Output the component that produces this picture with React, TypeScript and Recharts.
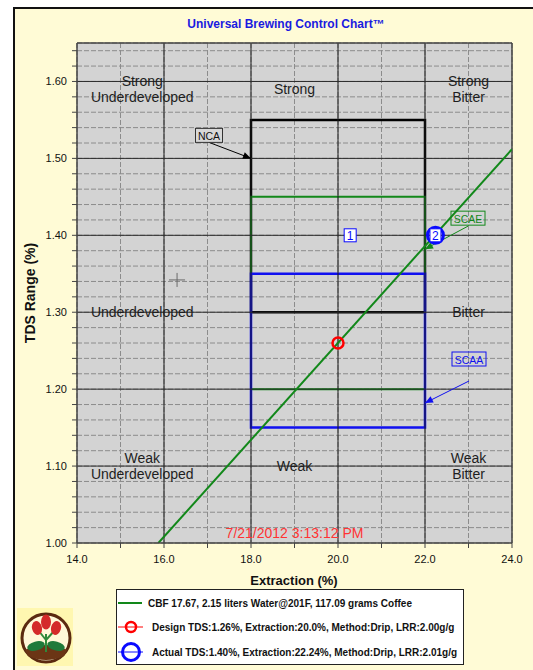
import React from 'react';
import {
  ComposedChart, XAxis, YAxis, CartesianGrid, Line, Scatter,
  ReferenceLine, ReferenceArea, ReferenceDot,
} from 'recharts';

const FONT = "Arial, 'Liberation Sans', sans-serif";

// ---- axis ticks ----
const xTicks = [14, 15, 16, 17, 18, 19, 20, 21, 22, 23, 24];
const xMajor = [16, 18, 20, 22];
const yTicks = [
  1.0, 1.02, 1.04, 1.06, 1.08, 1.1, 1.12, 1.14, 1.16, 1.18, 1.2, 1.22, 1.24, 1.26, 1.28,
  1.3, 1.32, 1.34, 1.36, 1.38, 1.4, 1.42, 1.44, 1.46, 1.48, 1.5, 1.52, 1.54, 1.56, 1.58,
  1.6, 1.62, 1.64,
];
const yMajor = [1.1, 1.2, 1.3, 1.4, 1.5, 1.6];

// ---- series ----
const cbfLine = [
  { ext: 15.87, tds: 1.0 },
  { ext: 24.0, tds: 1.512 },
];
const designPoint = [{ ext: 20.0, tds: 1.26 }];
const actualPoint = [{ ext: 22.24, tds: 1.4 }];

// ---- standards boxes (drawn in this order) ----
const standards = [
  { name: 'NCA', x1: 18, x2: 22, y1: 1.3, y2: 1.55, color: '#000000', width: 2.5 },
  { name: 'SCAE', x1: 18, x2: 22, y1: 1.2, y2: 1.45, color: '#13881a', width: 2 },
  { name: 'SCAA', x1: 18, x2: 22, y1: 1.15, y2: 1.35, color: '#1010f0', width: 2.5 },
];

// callouts: arrow tip (data) and box offset in px
const callouts = [
  { name: 'NCA', ext: 18.0, tds: 1.5, color: '#000000', boxDx: -42, boxDy: -23, lineDy: 7, boxW: 27, fill: '#d8d8d8', border: '#333', textColor: '#111' },
  { name: 'SCAE', ext: 22.0, tds: 1.382, color: '#13881a', boxDx: 43, boxDy: -31, lineDy: 8, boxW: 34, fill: 'none', border: '#13881a', textColor: '#13881a' },
  { name: 'SCAA', ext: 22.0, tds: 1.182, color: '#1010f0', boxDx: 44, boxDy: -44, lineDy: 22, boxW: 34, fill: 'none', border: '#1010f0', textColor: '#1010f0' },
];

// zone labels
const zoneLabels = [
  { lines: ['Strong', 'Underdeveloped'], ext: 15.5, tds: 1.59 },
  { lines: ['Strong'], ext: 19.0, tds: 1.59 },
  { lines: ['Strong', 'Bitter'], ext: 23.0, tds: 1.59 },
  { lines: ['Underdeveloped'], ext: 15.5, tds: 1.3 },
  { lines: ['Bitter'], ext: 23.0, tds: 1.3 },
  { lines: ['Weak', 'Underdeveloped'], ext: 15.5, tds: 1.1 },
  { lines: ['Weak'], ext: 19.0, tds: 1.1 },
  { lines: ['Weak', 'Bitter'], ext: 23.0, tds: 1.1 },
];

const crossMark = { ext: 16.3, tds: 1.342 };
const label1 = { ext: 20.28, tds: 1.4, text: '1' };
const dateStamp = { ext: 19.0, tds: 1.013, text: '7/21/2012 3:13:12 PM' };

const legendItems = [
  'CBF 17.67,  2.15 liters Water@201F, 117.09 grams Coffee',
  'Design TDS:1.26%, Extraction:20.0%, Method:Drip, LRR:2.00g/g',
  'Actual TDS:1.40%, Extraction:22.24%, Method:Drip, LRR:2.01g/g',
];

const GREEN = '#12881a';
const RED = '#ff0000';
const BLUE = '#0a0aff';

const ZoneText = ({ cx, cy, lines }: any) => {
  const lh = 16.5;
  const start = cy - ((lines.length - 1) * lh) / 2;
  return (
    <g>
      {lines.map((l: string, i: number) => (
        <text key={i} x={cx} y={start + i * lh} textAnchor="middle" dominantBaseline="central"
          fontSize={14} fill="#1e1e1e" fontFamily={FONT}>{l}</text>
      ))}
    </g>
  );
};

const Callout = ({ cx, cy, c }: any) => {
  const bx = cx + c.boxDx;
  const by = cy + c.boxDy;
  const sy = by + c.lineDy;
  const a = Math.atan2(cy - sy, cx - bx);
  const L = 8, W = 3.5;
  const p1x = cx - L * Math.cos(a) + W * Math.sin(a);
  const p1y = cy - L * Math.sin(a) - W * Math.cos(a);
  const p2x = cx - L * Math.cos(a) - W * Math.sin(a);
  const p2y = cy - L * Math.sin(a) + W * Math.cos(a);
  return (
    <g>
      <line x1={bx} y1={sy} x2={cx} y2={cy} stroke={c.color} strokeWidth={1} />
      <polygon points={`${cx},${cy} ${p1x},${p1y} ${p2x},${p2y}`} fill={c.color} />
      <rect x={bx - c.boxW / 2} y={by - 7} width={c.boxW} height={14} fill={c.fill}
        stroke={c.border} strokeWidth={1} />
      <text x={bx} y={by + 0.5} textAnchor="middle" dominantBaseline="central" fontSize={10.5}
        fill={c.textColor} fontFamily={FONT}>{c.name}</text>
    </g>
  );
};

const App = () => {
  const W = 533, H = 670;
  return (
    <div style={{ position: 'absolute', left: 0, top: 0, width: W, height: H, overflow: 'hidden', background: '#fff' }}>
      <div style={{ position: 'absolute', left: 13, top: 7, width: 700, height: 800, background: '#FFFBD6', border: '2px solid #111', boxSizing: 'border-box' }} />
      <div style={{ position: 'absolute', left: 0, top: 0 }}>
        <ComposedChart width={W} height={H} margin={{ top: 43, right: 21, bottom: 97, left: 17 }}>
          <CartesianGrid fill="#d3d3d3" stroke="#8c8c8c" strokeDasharray="5 2" strokeWidth={1} />
          <XAxis type="number" dataKey="ext" domain={[14, 24]} ticks={xTicks} allowDataOverflow
            height={30} tickSize={5} tickMargin={7} interval={0}
            tickFormatter={(v: number) => (Math.round(v) % 2 === 0 ? v.toFixed(1) : '')}
            tick={{ fontSize: 11, fill: '#111', fontFamily: FONT }}
            axisLine={{ stroke: '#444', strokeWidth: 1.5 }} tickLine={{ stroke: '#444' }} />
          <YAxis type="number" dataKey="tds" domain={[1.0, 1.65]} ticks={yTicks} allowDataOverflow
            width={60} tickSize={5} tickMargin={5} interval={0}
            tickFormatter={(v: number) => (Math.round(v * 100) % 10 === 0 ? v.toFixed(2) : '')}
            tick={{ fontSize: 11, fill: '#111', fontFamily: FONT }}
            axisLine={{ stroke: '#444', strokeWidth: 1.5 }} tickLine={{ stroke: '#444' }} />
          {xMajor.map((x) => (
            <ReferenceLine key={'vx' + x} x={x} stroke="#1a1a1a" strokeWidth={1} />
          ))}
          {yMajor.map((y) => (
            <ReferenceLine key={'hy' + y} y={y} stroke="#2a2a2a" strokeWidth={1} />
          ))}
          <ReferenceLine y={1.65} stroke="#444" strokeWidth={1.5} />
          <ReferenceLine x={24} stroke="#444" strokeWidth={1.5} />
          {zoneLabels.map((z, i) => (
            <ReferenceDot key={'z' + i} x={z.ext} y={z.tds} r={0}
              shape={(p: any) => <ZoneText cx={p.cx} cy={p.cy} lines={z.lines} />} />
          ))}
          {standards.map((s) => (
            <ReferenceArea key={s.name} x1={s.x1} x2={s.x2} y1={s.y1} y2={s.y2}
              fill="none" fillOpacity={0} stroke={s.color} strokeWidth={s.width} />
          ))}
          <ReferenceDot x={crossMark.ext} y={crossMark.tds} r={0}
            shape={(p: any) => (
              <path d={`M ${p.cx - 8} ${p.cy} H ${p.cx + 8} M ${p.cx} ${p.cy - 7} V ${p.cy + 7}`}
                stroke="#6a6a6a" strokeWidth={1} fill="none" />
            )} />
          <ReferenceDot x={dateStamp.ext} y={dateStamp.tds} r={0}
            shape={(p: any) => (
              <text x={p.cx} y={p.cy} textAnchor="middle" dominantBaseline="central" fontSize={14}
                fill="#ff3333" fontFamily={FONT}>{dateStamp.text}</text>
            )} />
          <Line data={cbfLine} dataKey="tds" stroke={GREEN} strokeWidth={2} dot={false}
            isAnimationActive={false} />
          {callouts.map((c) => (
            <ReferenceDot key={'c' + c.name} x={c.ext} y={c.tds} r={0}
              shape={(p: any) => <Callout cx={p.cx} cy={p.cy} c={c} />} />
          ))}
          <ReferenceDot x={label1.ext} y={label1.tds} r={0}
            shape={(p: any) => (
              <g>
                <rect x={p.cx - 6} y={p.cy - 6.5} width={12} height={13} fill="#fff" stroke={BLUE} strokeWidth={1} />
                <text x={p.cx} y={p.cy + 0.5} textAnchor="middle" dominantBaseline="central" fontSize={12}
                  fill={BLUE} fontFamily={FONT}>{label1.text}</text>
              </g>
            )} />
          <Scatter data={designPoint} dataKey="tds" isAnimationActive={false}
            shape={(p: any) => (
              <circle cx={p.cx} cy={p.cy} r={5.5} fill="none" stroke={RED} strokeWidth={2.5} />
            )} />
          <Scatter data={actualPoint} dataKey="tds" isAnimationActive={false}
            shape={(p: any) => (
              <g>
                <circle cx={p.cx} cy={p.cy} r={8} fill="none" stroke={BLUE} strokeWidth={3} />
                <rect x={p.cx - 5.5} y={p.cy - 6.5} width={11} height={13} fill="#fff" stroke={BLUE} strokeWidth={1} />
                <text x={p.cx} y={p.cy + 0.5} textAnchor="middle" dominantBaseline="central" fontSize={12}
                  fill={BLUE} fontFamily={FONT}>2</text>
              </g>
            )} />
        </ComposedChart>
      </div>
      <svg width={W} height={H} style={{ position: 'absolute', left: 0, top: 0, pointerEvents: 'none' }}>
        <text x={286} y={24} textAnchor="middle" dominantBaseline="central" fontSize={12} fontWeight="bold"
          fill="#1a1ae0" fontFamily={FONT}>Universal Brewing Control Chart™</text>
        <text x={294} y={580} textAnchor="middle" dominantBaseline="central" fontSize={13} fontWeight="bold"
          fill="#111" fontFamily={FONT}>Extraction (%)</text>
        <text x={30} y={293} textAnchor="middle" dominantBaseline="central" fontSize={14} fontWeight="bold"
          fill="#111" fontFamily={FONT} transform="rotate(-90 30 293)">TDS Range (%)</text>
        {/* legend */}
        <rect x={116.5} y={589.5} width={347} height={75} fill="#fff" stroke="#222" strokeWidth={1} />
        <line x1={118} y1={603} x2={142} y2={603} stroke={GREEN} strokeWidth={2} />
        <text x={148} y={603} dominantBaseline="central" fontSize={10} fontWeight="bold" fill="#111" fontFamily={FONT}>{legendItems[0]}</text>
        <line x1={118} y1={627} x2={143} y2={627} stroke={RED} strokeWidth={1} />
        <circle cx={131} cy={627} r={5} fill="none" stroke={RED} strokeWidth={2.5} />
        <text x={152} y={627} dominantBaseline="central" fontSize={10} fontWeight="bold" fill="#111" fontFamily={FONT}>{legendItems[1]}</text>
        <line x1={118} y1={652} x2={143} y2={652} stroke={BLUE} strokeWidth={1} />
        <circle cx={131} cy={652} r={8.5} fill="none" stroke={BLUE} strokeWidth={3} />
        <text x={152} y={652} dominantBaseline="central" fontSize={10} fontWeight="bold" fill="#111" fontFamily={FONT}>{legendItems[2]}</text>
        {/* logo */}
        <rect x={17} y={608} width={56} height={58} fill="#FFF7B0" />
        <circle cx={46} cy={638} r={24} fill="#FFF8D8" stroke="#5b2a10" strokeWidth={3} />
        <path d="M 25 650 Q 46 640 67 650 L 64 656 Q 46 664 28 656 Z" fill="#6b3515" />
        <path d="M 46 652 L 46 634 M 46 640 L 38 630 M 46 640 L 55 630" stroke="#2f8a3a" strokeWidth={2} fill="none" />
        <ellipse cx={36} cy={646} rx={9} ry={4.5} fill="#1f7a3a" transform="rotate(-15 36 646)" />
        <ellipse cx={56} cy={646} rx={9} ry={4.5} fill="#1f7a3a" transform="rotate(15 56 646)" />
        <ellipse cx={37} cy={628} rx={5} ry={7} fill="#d42a2a" transform="rotate(-15 37 628)" />
        <ellipse cx={46} cy={622} rx={5} ry={7.5} fill="#d42a2a" />
        <ellipse cx={56} cy={628} rx={5} ry={7} fill="#d42a2a" transform="rotate(15 56 628)" />
      </svg>
    </div>
  );
};

export default App;
